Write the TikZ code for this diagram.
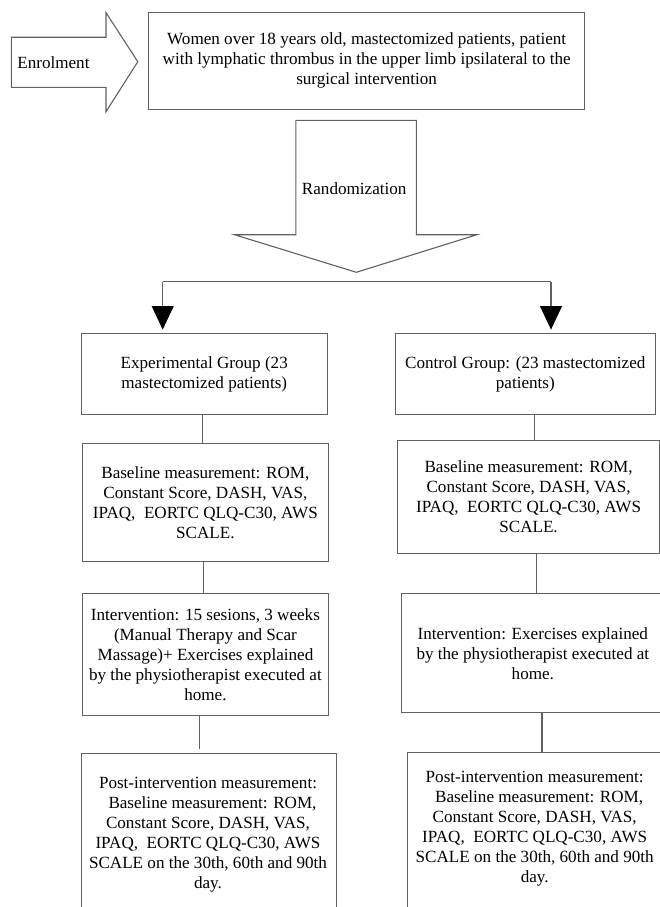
\documentclass[tikz,border=0pt]{standalone}
\usepackage{fontspec}
\setmainfont{Liberation Serif}
\usetikzlibrary{arrows.meta}
\begin{document}
\begin{tikzpicture}[x=1pt,y=-1pt,
  ln/.style={draw=black!62, line width=1.1pt},
  txt/.style={font=\fontsize{17.1}{20}\selectfont, align=center, inner sep=0pt},
  box/.style={ln, txt, rectangle, anchor=north west},
  arr/.style={ln, -{Triangle[width=22pt,length=23.6pt,fill=black,color=black]}}
]
\useasboundingbox (0,0) rectangle (660,907);
\clip (0,0) rectangle (660,907);

% Enrolment arrow
\draw[ln] (11.3,37.3) -- (106,37.3) -- (106,12.7) -- (137.8,61.7) -- (106,111.7) -- (106,87.3) -- (11.3,87.3) -- cycle;
\node[txt] (enrol) at (53.4,62.7) {Enrolment};

% Top box
\node[box, minimum width=436.4pt, minimum height=97.3pt] (top) at (147.9,11.7)
  {Women over 18 years old, mastectomized patients, patient\\with lymphatic thrombus in the upper limb ipsilateral to the\\surgical intervention};

% Randomization arrow
\draw[ln] (295.8,120.3) -- (416.4,120.3) -- (416.4,234.7) -- (476.9,234.7) -- (356.3,272.3) -- (234.5,234.7) -- (295.8,234.7) -- cycle;
\node[txt] (rand) at (354.2,188.3) {Randomization};

% Group boxes
\node[box, minimum width=246pt, minimum height=81.3pt] (eg) at (80.7,333)
  {Experimental Group (23\\mastectomized patients)};
\node[box, minimum width=260.5pt, minimum height=81.3pt] (cg) at (394.5,333)
  {Control Group: (23 mastectomized\\patients)};

% Baseline boxes
\node[box, minimum width=245.8pt, minimum height=118.6pt] (eb) at (81.9,442.7)
  {Baseline measurement: ROM,\\Constant Score, DASH, VAS,\\IPAQ,\ \ EORTC QLQ-C30, AWS\\SCALE.};
\node[box, minimum width=262pt, minimum height=112.5pt] (cb) at (397,440)
  {Baseline measurement: ROM,\\Constant Score, DASH, VAS,\\IPAQ,\ \ EORTC QLQ-C30, AWS\\SCALE.};

% Intervention boxes
\node[box, minimum width=245.6pt, minimum height=121.7pt] (ei) at (82.1,593)
  {Intervention: 15 sesions, 3 weeks\\(Manual Therapy and Scar\\Massage)+ Exercises explained\\by the physiotherapist executed at\\home.};
\node[box, minimum width=262pt, minimum height=119.3pt] (ci) at (401.3,593)
  {Intervention: Exercises explained\\by the physiotherapist executed at\\home.};

% Post-intervention boxes (run past the bottom edge)
\node[box, minimum width=255pt, minimum height=170pt] (ep) at (80.7,753.3) {};
\node[box, minimum width=256pt, minimum height=170pt] (cp) at (407.1,752.3) {};
\node[txt, anchor=north] (ept) at (208,777.4)
  {Post-intervention measurement:\\\hspace*{9pt}Baseline measurement: ROM,\\Constant Score, DASH, VAS,\\IPAQ,\ \ EORTC QLQ-C30, AWS\\SCALE on the 30th, 60th and 90th\\day.};
\node[txt, anchor=north] (cpt) at (534.7,771.4)
  {Post-intervention measurement:\\\hspace*{9pt}Baseline measurement: ROM,\\Constant Score, DASH, VAS,\\IPAQ,\ \ EORTC QLQ-C30, AWS\\SCALE on the 30th, 60th and 90th\\day.};

% Split below randomization
\coordinate (sl) at (162.7,281.7);
\coordinate (sr) at (551,281.7);
\draw[ln] (sl) -- (sr);
\draw[arr] (sl) -- ([yshift=3.4pt]eg.north -| sl);
\draw[arr] (sr) -- ([yshift=3.4pt]cg.north -| sr);

% Vertical connectors
\coordinate (xa) at (202.1,0);
\coordinate (xb) at (203.4,0);
\coordinate (xc) at (199.2,0);
\coordinate (xd) at (534.5,0);
\coordinate (xe) at (536.1,0);
\coordinate (xf) at (542,0);
\draw[ln] (eg.south -| xa) -- (eb.north -| xa);
\draw[ln] (eb.south -| xb) -- (ei.north -| xb);
\draw[ln, shorten >=4pt] (ei.south -| xc) -- (ep.north -| xc);
\draw[ln] (cg.south -| xd) -- (cb.north -| xd);
\draw[ln] (cb.south -| xe) -- (ci.north -| xe);
\draw[ln] (ci.south -| xf) -- (cp.north -| xf);
\end{tikzpicture}
\end{document}
